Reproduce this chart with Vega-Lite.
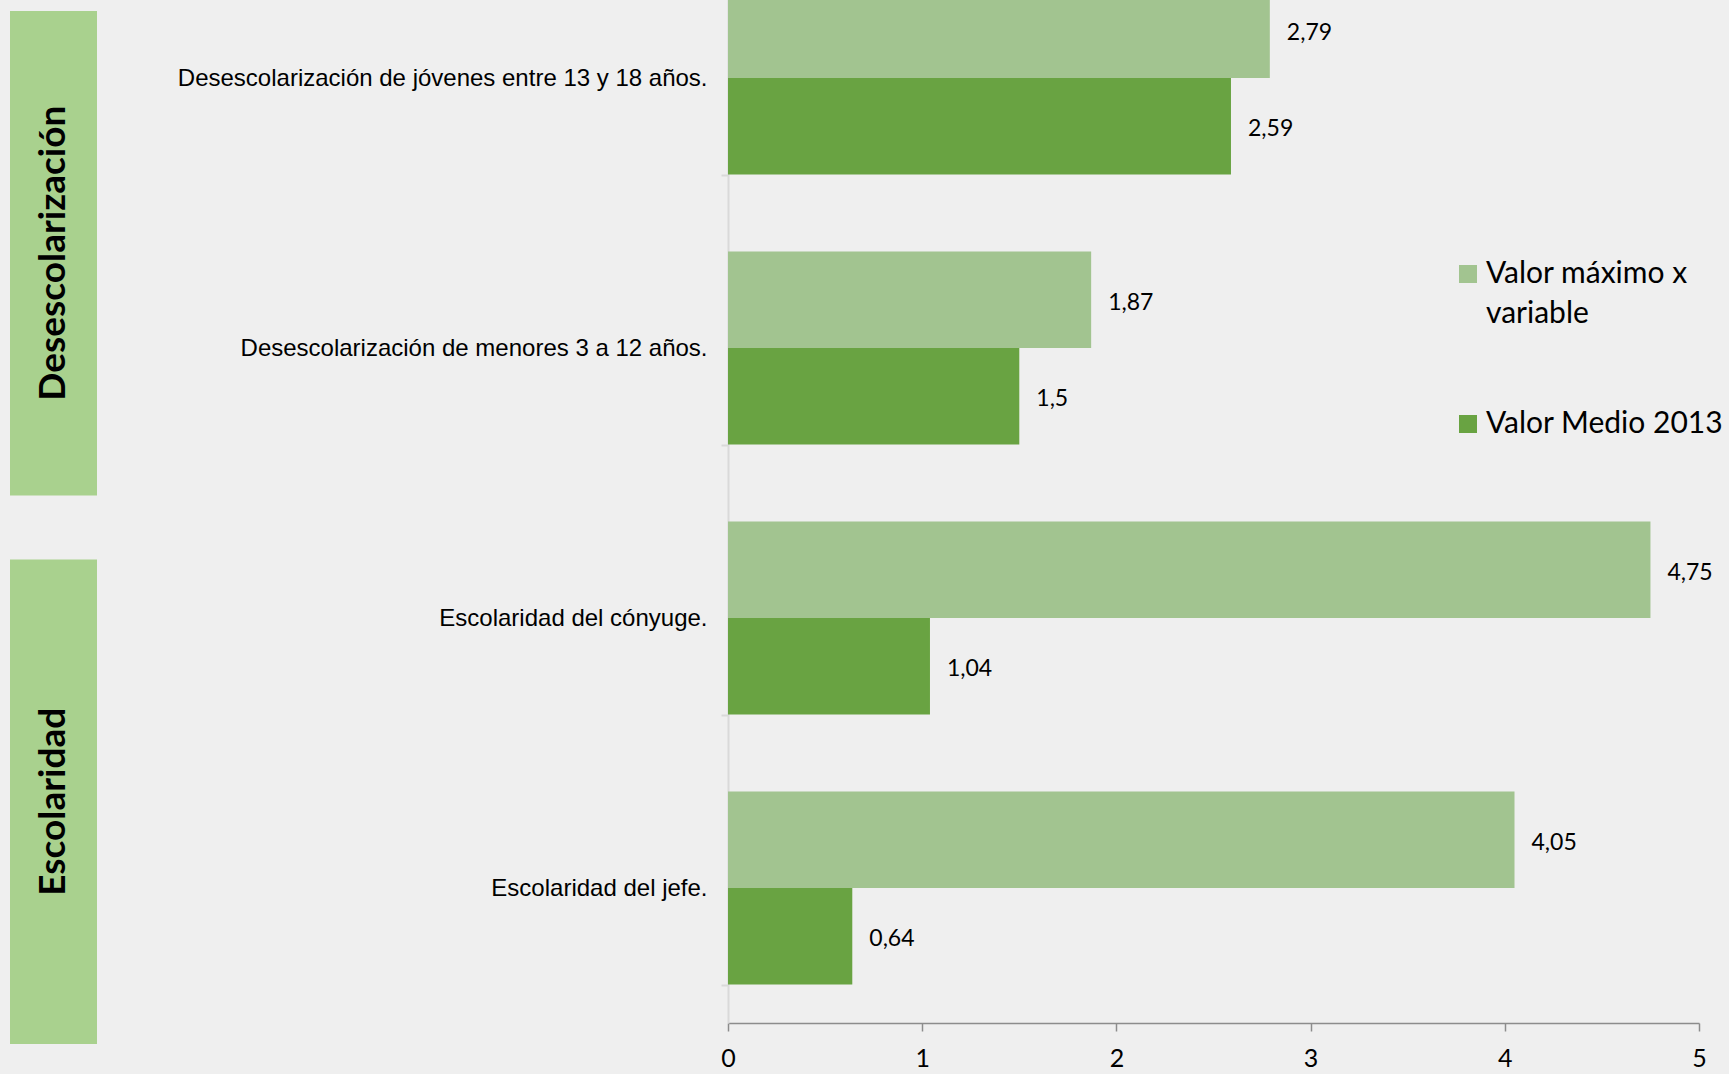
{
  "$schema": "https://vega.github.io/schema/vega-lite/v6.json",
  "autosize": {"type": "none"},
  "width": 971,
  "height": 1023,
  "padding": {"left": 728, "top": 0, "right": 30, "bottom": 51},
  "background": "#efefef",
  "config": {
    "view": {"stroke": null},
    "locale": {"number": {"decimal": ",", "thousands": ".", "grouping": [3], "currency": ["", " €"]}},
    "axis": {"grid": false},
    "style": {"guide-label": {"lineHeight": 40}}
  },
  "layer": [
    {
      "data": {"values": [
        {"variable": "Desescolarización de jóvenes entre 13 y 18 años.", "serie": "Valor máximo x variable", "valor": 2.79},
        {"variable": "Desescolarización de jóvenes entre 13 y 18 años.", "serie": "Valor Medio 2013", "valor": 2.59},
        {"variable": "Desescolarización de menores 3 a 12 años.", "serie": "Valor máximo x variable", "valor": 1.87},
        {"variable": "Desescolarización de menores 3 a 12 años.", "serie": "Valor Medio 2013", "valor": 1.5},
        {"variable": "Escolaridad del cónyuge.", "serie": "Valor máximo x variable", "valor": 4.75},
        {"variable": "Escolaridad del cónyuge.", "serie": "Valor Medio 2013", "valor": 1.04},
        {"variable": "Escolaridad del jefe.", "serie": "Valor máximo x variable", "valor": 4.05},
        {"variable": "Escolaridad del jefe.", "serie": "Valor Medio 2013", "valor": 0.64}
      ]},
      "encoding": {
        "y": {
          "field": "variable", "type": "nominal", "sort": null,
          "scale": {"range": [-57, 1023], "paddingInner": 0.285, "paddingOuter": 0.1425},
          "axis": {
            "title": null, "domainColor": "#d9d9d9", "domainWidth": 2,
            "tickColor": "#d9d9d9", "tickWidth": 2, "tickSize": 7, "tickBand": "extent",
            "labelFont": "Liberation Sans", "labelFontSize": 24, "labelColor": "#000000",
            "labelPadding": 14, "labelLimit": 700
          }
        },
        "yOffset": {
          "field": "serie", "type": "nominal",
          "sort": ["Valor máximo x variable", "Valor Medio 2013"],
          "scale": {"paddingInner": 0, "paddingOuter": 0}
        },
        "x": {
          "field": "valor", "type": "quantitative",
          "scale": {"domain": [0, 5], "nice": false},
          "axis": {
            "title": null, "values": [0, 1, 2, 3, 4, 5], "format": "d",
            "domainColor": "#8c8c8c", "domainWidth": 1.5,
            "tickColor": "#8c8c8c", "tickWidth": 1.5, "tickSize": 8,
            "labelFont": "Lato", "labelFontSize": 25, "labelColor": "#000000",
            "labelPadding": 15, "labelFlush": false
          }
        }
      },
      "layer": [
        {
          "mark": {"type": "bar"},
          "encoding": {
            "color": {
              "field": "serie", "type": "nominal",
              "scale": {"domain": ["Valor máximo x variable", "Valor Medio 2013"], "range": ["#a2c490", "#69a342"]},
              "legend": {
                "orient": "none", "legendX": 725, "legendY": 259, "title": null,
                "symbolType": "square", "symbolSize": 324, "symbolStrokeWidth": 0,
                "labelFont": "Lato", "labelFontSize": 30, "labelColor": "#000000",
                "labelOffset": 3, "rowPadding": 80, "padding": 0, "labelLimit": 400,
                "labelExpr": "datum.label == 'Valor máximo x variable' ? ['Valor máximo x', 'variable'] : datum.label"
              }
            }
          }
        },
        {
          "mark": {"type": "text", "align": "left", "baseline": "middle", "dx": 17, "dy": 3, "font": "Lato", "fontSize": 23, "color": "#000000"},
          "encoding": {"text": {"field": "valor", "type": "quantitative", "format": ".3~g"}}
        }
      ]
    },
    {
      "data": {"values": [{"grupo": "Desescolarización"}, {"grupo": "Escolaridad"}]},
      "encoding": {
        "y": {
          "field": "grupo", "type": "nominal", "sort": null,
          "scale": {"range": [11, 1044], "paddingInner": 0.117, "paddingOuter": 0},
          "axis": null
        },
        "x": {
          "datum": "grupos", "type": "nominal",
          "scale": {"range": [-718, -631], "paddingInner": 0, "paddingOuter": 0},
          "axis": null
        }
      },
      "layer": [
        {"mark": {"type": "rect", "color": "#a9d18e"}},
        {
          "mark": {"type": "text", "angle": 270, "font": "Lato", "fontWeight": "bold", "fontSize": 37, "align": "center", "baseline": "middle", "color": "#000000"},
          "encoding": {"text": {"field": "grupo", "type": "nominal"}}
        }
      ]
    }
  ],
  "resolve": {"scale": {"x": "independent", "y": "independent"}}
}
